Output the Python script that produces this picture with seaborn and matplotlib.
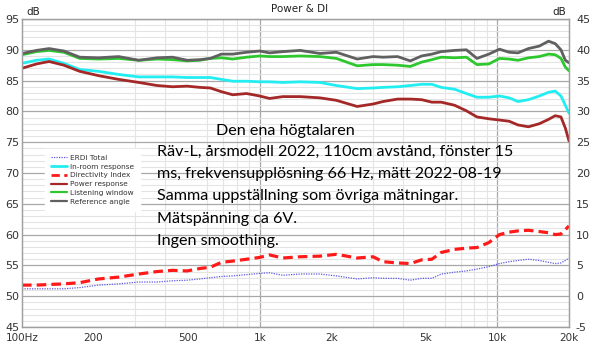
import numpy as np
import pandas as pd
import seaborn as sns
import matplotlib.pyplot as plt
from matplotlib.lines import Line2D
from matplotlib.ticker import FixedLocator, NullFormatter

# frekvenser (Hz) och kurvor
freq = [100, 115, 130, 150, 175, 210, 255, 310, 370, 430, 495, 560, 620, 690, 770, 880,
        1000, 1100, 1250, 1480, 1790, 2100, 2570, 3000, 3300, 3800, 4300, 4800, 5300, 5800,
        6600, 7400, 8200, 9200, 10200, 11200, 12200, 13500, 15000, 16400, 17500, 18500,
        19300, 20000]

ref_angle = [89.4, 89.9, 90.2, 89.8, 88.8, 88.7, 88.9, 88.3, 88.7, 88.8, 88.3, 88.4, 88.6, 89.3,
             89.3, 89.6, 89.8, 89.5, 89.7, 89.9, 89.4, 89.6, 88.5, 88.9, 88.8, 88.9, 88.2, 89.0,
             89.3, 89.7, 89.9, 90.0, 88.6, 89.3, 90.1, 89.6, 89.5, 90.2, 90.6, 91.4, 91.0, 90.0,
             88.3, 87.9]
listening = [89.2, 89.7, 89.9, 89.6, 88.6, 88.5, 88.6, 88.3, 88.5, 88.4, 88.2, 88.3, 88.6, 88.7,
             88.5, 88.8, 89.0, 88.9, 88.9, 89.0, 88.9, 88.6, 87.4, 87.6, 87.6, 87.5, 87.3, 88.0,
             88.4, 88.8, 88.7, 88.8, 87.6, 87.7, 88.6, 88.5, 88.3, 88.7, 88.9, 89.3, 89.2, 88.6,
             87.2, 86.6]
in_room = [87.8, 88.3, 88.5, 87.8, 86.8, 86.5, 86.0, 85.6, 85.6, 85.6, 85.5, 85.5, 85.5, 85.2,
           84.9, 84.9, 84.8, 84.8, 84.7, 84.8, 84.7, 84.2, 83.7, 83.8, 83.9, 84.0, 84.2, 84.4,
           84.4, 83.9, 83.6, 82.9, 82.3, 82.3, 82.5, 82.2, 81.6, 81.9, 82.5, 83.1, 83.3, 82.5,
           81.0, 79.7]
power = [87.0, 87.7, 88.1, 87.5, 86.5, 85.8, 85.2, 84.7, 84.2, 84.0, 84.1, 83.9, 83.8, 83.2,
         82.7, 82.9, 82.5, 82.1, 82.4, 82.4, 82.2, 81.8, 80.8, 81.2, 81.6, 82.0, 82.0, 81.9,
         81.5, 81.5, 81.0, 80.1, 79.1, 78.8, 78.6, 78.4, 77.8, 77.5, 78.0, 78.7, 79.3, 79.1,
         77.3, 75.2]
di = [1.8, 1.8, 1.9, 2.0, 2.2, 2.8, 3.1, 3.6, 4.0, 4.2, 4.1, 4.5, 4.7, 5.5, 5.7, 6.0, 6.3, 6.7,
      6.2, 6.4, 6.5, 6.8, 6.2, 6.4, 5.6, 5.4, 5.3, 5.9, 6.0, 7.1, 7.6, 7.8, 7.9, 8.7, 10.0,
      10.4, 10.6, 10.7, 10.5, 10.3, 10.0, 10.1, 10.8, 11.4]
erdi = [1.2, 1.2, 1.2, 1.2, 1.4, 1.8, 2.0, 2.3, 2.3, 2.5, 2.6, 2.8, 3.0, 3.2, 3.3, 3.5, 3.7,
        3.8, 3.4, 3.6, 3.6, 3.3, 2.8, 3.0, 2.9, 2.9, 2.6, 2.9, 2.9, 3.6, 3.9, 4.1, 4.4, 4.8,
        5.3, 5.6, 5.8, 6.0, 5.8, 5.5, 5.3, 5.4, 5.8, 6.2]

xticks = [100, 200, 500, 1000, 2000, 5000, 10000, 20000]
xticklabels = ['100Hz', '200', '500', '1k', '2k', '5k', '10k', '20k']

df = pd.DataFrame({'freq': freq, 'ref': ref_angle, 'lw': listening, 'room': in_room,
                   'power': power, 'di': di, 'erdi': erdi})

sns.set_style('white')
plt.rcParams['font.family'] = ['DejaVu Sans']
plt.rcParams['axes.unicode_minus'] = False

fig = plt.figure(figsize=(6, 3.56), dpi=100)
ax = fig.add_axes([22 / 600, 29 / 356, 547 / 600, 308 / 356])
ax2 = ax.twinx()

ax.set_xscale('log')
ax.set_xlim(100, 20000)
ax.set_ylim(45, 95)
ax2.set_ylim(-5, 45)

# rutnät
minor_f = [f * m for f in (100, 1000, 10000) for m in range(2, 10) if f * m < 20000]
ax.xaxis.set_minor_locator(FixedLocator(minor_f))
ax.xaxis.set_minor_formatter(NullFormatter())
ax.set_yticks(range(45, 96, 5))
ax.set_yticks(range(45, 96, 1), minor=True)
ax.grid(which='minor', color='#e4e4e4', lw=0.8)
ax.grid(which='major', axis='y', color='#a8a8a8', lw=0.9)
for f in (1000, 10000):
    ax.axvline(f, color='#a8a8a8', lw=0.9, zorder=0.5)

ax.set_xticks(xticks)
ax.set_xticklabels(xticklabels)
ax2.set_yticks(range(-5, 46, 5))

for a in (ax, ax2):
    a.tick_params(axis='both', which='both', length=0, labelsize=8, colors='#333333', pad=2)
    for s in a.spines.values():
        s.set_color('#a0a0a0')
        s.set_linewidth(0.9)
ax.tick_params(axis='x', pad=4, labelsize=7.5)
ax2.tick_params(axis='y', pad=5)

sns.lineplot(data=df, x='freq', y='lw', ax=ax, color='#2ec82e', lw=2.0)
sns.lineplot(data=df, x='freq', y='ref', ax=ax, color='#606060', lw=2.0)
sns.lineplot(data=df, x='freq', y='room', ax=ax, color='#22eef2', lw=2.0)
sns.lineplot(data=df, x='freq', y='power', ax=ax, color='#a52828', lw=2.0)
sns.lineplot(data=df, x='freq', y='erdi', ax=ax2, color='#5a5ae6', lw=0.9, linestyle=(0, (1, 1)))
sns.lineplot(data=df, x='freq', y='di', ax=ax2, color='#ff1a1a', lw=2.3, linestyle=(0, (3, 1.6)))
ax.set_xlabel('')
ax.set_ylabel('')
ax2.set_ylabel('')
ax2.set_xlabel('')

fig.text(0.5, 1 - 9 / 356, 'Power & DI', ha='center', va='center', fontsize=7.5, color='#222222')
fig.text(26 / 600, 1 - 12 / 356, 'dB', ha='left', va='center', fontsize=7.5, color='#222222')
fig.text(566 / 600, 1 - 12 / 356, 'dB', ha='right', va='center', fontsize=7.5, color='#222222')

handles = [
    Line2D([], [], color='#5a5ae6', lw=0.9, linestyle=(0, (1, 1))),
    Line2D([], [], color='#22eef2', lw=2.0),
    Line2D([], [], color='#ff1a1a', lw=2.0, linestyle=(0, (3, 1.6))),
    Line2D([], [], color='#a52828', lw=1.6),
    Line2D([], [], color='#2ec82e', lw=1.6),
    Line2D([], [], color='#606060', lw=1.6),
]
labels = ['ERDI Total', 'In-room response', 'Directivity Index', 'Power response',
          'Listening window', 'Reference angle']
leg = ax2.legend(handles, labels, loc='upper left', bbox_to_anchor=(0.035, 0.59),
                 fontsize=5.3, frameon=True, fancybox=False, edgecolor='white',
                 facecolor='white', framealpha=1, handlelength=2.2, handletextpad=0.4,
                 labelspacing=0.35, borderpad=0.8)
for t in leg.get_texts():
    t.set_color('#333333')

# anteckning
note_font = ['Lato', 'DejaVu Sans']
fig.text(285 / 600, 1 - 131 / 356, 'Den ena högtalaren', ha='center', va='center',
         fontsize=11.6, family=note_font, color='black')
note = ['Räv-L, årsmodell 2022, 110cm avstånd, fönster 15',
        'ms, frekvensupplösning 66 Hz, mätt 2022-08-19',
        'Samma uppställning som övriga mätningar.',
        'Mätspänning ca 6V.',
        'Ingen smoothing.']
for i, line in enumerate(note):
    fig.text(157 / 600, 1 - (152 + i * 22.2) / 356, line, ha='left', va='center',
             fontsize=11.6, family=note_font, color='black')

fig.savefig('out.png', dpi=100)
